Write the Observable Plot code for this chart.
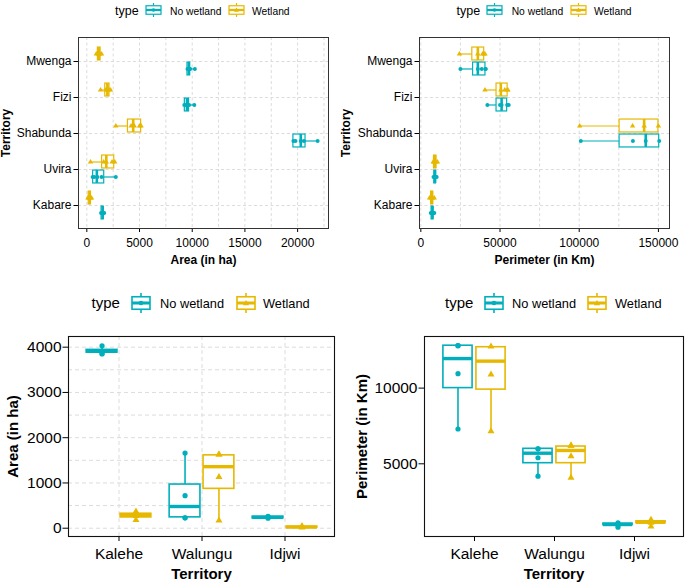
<!DOCTYPE html>
<html><head><meta charset="utf-8">
<script src="https://cdn.jsdelivr.net/npm/d3@7"></script>
<script src="https://cdn.jsdelivr.net/npm/@observablehq/plot@0.6"></script>
<style>
body{margin:0;background:#fff;}
#root{position:relative;width:685px;height:582px;font-family:"Liberation Sans",Arial,sans-serif;overflow:hidden;background:#fff}
.p{position:absolute}
.lg{position:absolute;white-space:nowrap;color:#000;line-height:1;transform:translateY(-50%)}
.lg svg{display:block}
</style></head><body><div id="root"></div>
<script>
// ---------- shared ----------
const types = ["No wetland", "Wetland"];
const typeColors = ["#00AFBB", "#E7B800"];
const typeSymbols = ["circle", "triangle"];

// ---------- top panels (horizontal boxes) ----------
const topTerritories = ["Mwenga", "Fizi", "Shabunda", "Uvira", "Kabare"];
const topGroupTerritory = ["Mwenga","Mwenga","Fizi","Fizi","Shabunda","Shabunda","Uvira","Uvira","Kabare","Kabare"];
const topGroupType = ["No wetland","Wetland","No wetland","Wetland","No wetland","Wetland","No wetland","Wetland","No wetland","Wetland"];

// Area (in ha), top-left
const areaTopMin = [9500, 900, 9200, 1300, 19600, 2750, 550, 350, 1350, 100];
const areaTopQ1  = [9550, 1050, 9300, 1750, 19600, 3900, 600, 1450, 1400, 180];
const areaTopMed = [9680, 1150, 9500, 1950, 20300, 4400, 950, 1850, 1500, 280];
const areaTopQ3  = [9800, 1300, 9700, 2150, 20750, 5150, 1650, 2600, 1600, 380];
const areaTopMax = [10250, 1400, 10200, 2250, 21900, 5150, 2750, 2700, 1650, 450];
const areaTopPoints = [
  [9550, 9650, 9750, 9800, 10250],
  [900, 1100, 1150, 1250, 1400],
  [9250, 9400, 9500, 9700, 10200],
  [1300, 1800, 1950, 2100, 2250],
  [19600, 19800, 20300, 20600, 21900],
  [2750, 4200, 4500, 5000, 5150],
  [550, 700, 1000, 1400, 2750],
  [350, 1600, 1850, 2400, 2650],
  [1350, 1450, 1500, 1550, 1650],
  [100, 200, 280, 350, 450]
];
const areaTopTicks = [0, 5000, 10000, 15000, 20000];
const areaTopGrid = [0, 2500, 5000, 7500, 10000, 12500, 15000, 17500, 20000, 22500];

// Perimeter (in Km), top-right
const perimTopMin = [25000, 24400, 42000, 40500, 101000, 100300, 8000, 7800, 6300, 5500];
const perimTopQ1  = [33000, 32500, 47800, 47800, 125500, 125500, 8500, 8300, 6800, 6500];
const perimTopMed = [36000, 36000, 51000, 50500, 142000, 141000, 9000, 9000, 7300, 7000];
const perimTopQ3  = [40800, 40000, 54500, 54800, 150500, 150000, 9500, 9800, 8000, 7800];
const perimTopMax = [41000, 40500, 55500, 55000, 150500, 150000, 10000, 10500, 8500, 8500];
const perimTopPoints = [
  [25000, 36000, 38500, 40800, 41000],
  [24400, 36000, 39000, 40000, 40500],
  [42000, 50000, 51000, 54500, 55500],
  [40500, 50500, 53000, 54500, 55000],
  [101000, 133900, 142000, 150500],
  [100300, 133700, 141000, 150000],
  [8000, 8500, 9000, 9500, 10000],
  [7800, 8500, 9000, 9500, 10500],
  [6300, 6800, 7300, 7800, 8500],
  [5500, 6500, 7000, 7500, 8500]
];
const perimTopTicks = [0, 50000, 100000, 150000];
const perimTopGrid = [0, 25000, 50000, 75000, 100000, 125000, 150000];

// ---------- bottom panels (vertical boxes) ----------
const botTerritories = ["Kalehe", "Walungu", "Idjwi"];
const botGroupTerritory = ["Kalehe","Kalehe","Walungu","Walungu","Idjwi","Idjwi"];
const botGroupType = ["No wetland","Wetland","No wetland","Wetland","No wetland","Wetland"];

// Area (in ha), bottom-left
const areaBotMin = [3850, 180, 230, 170, 200, 10];
const areaBotQ1  = [3880, 240, 240, 870, 220, 15];
const areaBotMed = [3910, 280, 480, 1360, 240, 25];
const areaBotQ3  = [3940, 320, 965, 1610, 255, 35];
const areaBotMax = [4030, 370, 1660, 1630, 270, 50];
const areaBotPoints = [
  [3850, 3860, 3910, 4030],
  [180, 270, 300, 370],
  [230, 230, 720, 1660],
  [170, 1130, 1630, 1630],
  [220, 240, 250, 260],
  [15, 25, 35, 45]
];
const areaBotTicks = [0, 1000, 2000, 3000, 4000];
const areaBotGrid = [0, 500, 1000, 1500, 2000, 2500, 3000, 3500, 4000];

// Perimeter (in Km), bottom-right
const perimBotMin = [7300, 7150, 4180, 4080, 810, 900];
const perimBotQ1  = [10000, 9900, 5040, 5040, 950, 1080];
const perimBotMed = [11950, 11780, 5700, 5880, 990, 1140];
const perimBotQ3  = [12800, 12700, 5990, 6140, 1050, 1200];
const perimBotMax = [12800, 12750, 5990, 6200, 1150, 1300];
const perimBotPoints = [
  [7300, 10950, 12800, 12800],
  [7150, 10900, 12750],
  [4180, 5400, 5990, 5990],
  [4080, 5500, 6200, 6200],
  [810, 950, 1000, 1100],
  [860, 1100, 1200, 1300]
];
const perimBotTicks = [5000, 10000];

// ---------- helpers ----------
const gridColor = "#dcdcdc";
function boxTable(terr, type, mn, q1, md, q3, mx) {
  return terr.map((t, i) => ({territory: t, type: type[i], min: mn[i], q1: q1[i], med: md[i], q3: q3[i], max: mx[i]}));
}
function pointTable(terr, type, pts) {
  return pts.flatMap((vals, i) => vals.map(v => ({territory: terr[i], type: type[i], value: v})));
}

function horizPanel(o) {
  const innerH = o.height - o.mt - o.mb;
  const step = innerH / (o.domain.length + 0.2);
  const boxes = boxTable(o.terr, o.type, o.min, o.q1, o.med, o.q3, o.max);
  const pts = pointTable(o.terr, o.type, o.points);
  const marks = [
    Plot.gridX({ticks: o.grid, stroke: gridColor, strokeOpacity: 1, strokeDasharray: "3,2.5"}),
    Plot.gridY({stroke: gridColor, strokeOpacity: 1, strokeDasharray: "3,2.5"})
  ];
  types.forEach((tp, k) => {
    const below = tp === "No wetland";
    const off = (below ? 1 : -1) * 0.204 * step;
    const insetTop = below ? 0.518 * step : 0.11 * step;
    const insetBottom = below ? 0.11 * step : 0.518 * step;
    const b = boxes.filter(d => d.type === tp);
    const p = pts.filter(d => d.type === tp);
    const c = typeColors[k];
    marks.push(
      Plot.ruleY(b, {y: "territory", x1: "min", x2: "max", dy: off, stroke: c, strokeWidth: 1.2}),
      Plot.barX(b, {y: "territory", x1: "q1", x2: "q3", insetTop, insetBottom, fill: "white", stroke: c, strokeWidth: 1.2}),
      Plot.tickX(b, {y: "territory", x: "med", insetTop, insetBottom, stroke: c, strokeWidth: 2.6}),
      Plot.dot(p, {x: "value", y: "territory", dy: off, r: 2, fill: c, symbol: typeSymbols[k]})
    );
  });
  marks.push(
    Plot.axisX({ticks: o.ticks, tickFormat: "d", tickSize: 4, tickPadding: 5.5, label: null}),
    Plot.axisY({tickSize: 4.5, tickPadding: 2.5, label: null}),
    Plot.frame({stroke: "#333", strokeWidth: 1}),
    Plot.text([o.xTitle], {text: d => d, frameAnchor: "bottom", dy: 32, lineAnchor: "middle", fontWeight: "bold", fontSize: 12}),
    Plot.text([o.yTitle], {text: d => d, frameAnchor: "left", dx: o.yTitleDx, rotate: -90, lineAnchor: "middle", textAnchor: "middle", fontWeight: "bold", fontSize: 12})
  );
  return Plot.plot({
    width: o.width, height: o.height,
    marginLeft: o.ml, marginRight: o.mr, marginTop: o.mt, marginBottom: o.mb,
    style: {fontFamily: '"Liberation Sans", Arial, sans-serif', fontSize: "12px", color: "#000", background: "transparent", overflow: "visible"},
    x: {domain: o.xDomain},
    y: {type: "band", domain: o.domain, paddingInner: 0, paddingOuter: 0.1},
    marks
  });
}

function vertPanel(o) {
  const innerW = o.width - o.ml - o.mr;
  const step = innerW / (o.domain.length + 0.2);
  const boxes = boxTable(o.terr, o.type, o.min, o.q1, o.med, o.q3, o.max);
  const pts = pointTable(o.terr, o.type, o.points);
  const marks = [];
  if (o.grid) {
    marks.push(
      Plot.gridY({ticks: o.grid, stroke: gridColor, strokeOpacity: 1, strokeDasharray: "4,3"}),
      Plot.gridX({stroke: gridColor, strokeOpacity: 1, strokeDasharray: "4,3"})
    );
  }
  types.forEach((tp, k) => {
    const left = tp === "No wetland";
    const off = (left ? -1 : 1) * 0.204 * step;
    const insetLeft = left ? 0.11 * step : 0.518 * step;
    const insetRight = left ? 0.518 * step : 0.11 * step;
    const b = boxes.filter(d => d.type === tp);
    const p = pts.filter(d => d.type === tp);
    const c = typeColors[k];
    marks.push(
      Plot.ruleX(b, {x: "territory", y1: "min", y2: "max", dx: off, stroke: c, strokeWidth: 1.6}),
      Plot.barY(b, {x: "territory", y1: "q1", y2: "q3", insetLeft, insetRight, fill: "white", stroke: c, strokeWidth: 1.6}),
      Plot.tickY(b, {x: "territory", y: "med", insetLeft, insetRight, stroke: c, strokeWidth: 3.4}),
      Plot.dot(p, {x: "territory", y: "value", dx: off, r: 2.6, fill: c, symbol: typeSymbols[k]})
    );
  });
  marks.push(
    Plot.axisX({tickSize: 5, tickPadding: 6.5, label: null}),
    Plot.axisY({ticks: o.ticks, tickFormat: "d", tickSize: 5.5, tickPadding: 1.5, label: null}),
    Plot.frame({stroke: "#111", strokeWidth: 1.1}),
    Plot.text([o.xTitle], {text: d => d, frameAnchor: "bottom", dy: 38, lineAnchor: "middle", fontWeight: "bold", fontSize: 15}),
    Plot.text([o.yTitle], {text: d => d, frameAnchor: "left", dx: o.yTitleDx, rotate: -90, lineAnchor: "middle", textAnchor: "middle", fontWeight: "bold", fontSize: 15})
  );
  return Plot.plot({
    width: o.width, height: o.height,
    marginLeft: o.ml, marginRight: o.mr, marginTop: o.mt, marginBottom: o.mb,
    style: {fontFamily: '"Liberation Sans", Arial, sans-serif', fontSize: "15.5px", color: "#000", background: "transparent", overflow: "visible"},
    x: {type: "band", domain: o.domain, paddingInner: 0, paddingOuter: 0.1},
    y: {domain: o.yDomain},
    marks
  });
}

// legend icon (boxplot key glyph)
function icon(color, symbol, w, h, boxH, r) {
  const ns = "http://www.w3.org/2000/svg";
  const s = document.createElementNS(ns, "svg");
  s.setAttribute("width", w + 2); s.setAttribute("height", h);
  const g = (tag, attrs) => { const e = document.createElementNS(ns, tag); for (const k in attrs) e.setAttribute(k, attrs[k]); s.appendChild(e); return e; };
  const cx = (w + 2) / 2, y0 = (h - boxH) / 2, sw = h > 16 ? 1.6 : 1.2;
  g("line", {x1: cx, x2: cx, y1: 0, y2: y0, stroke: color, "stroke-width": sw});
  g("line", {x1: cx, x2: cx, y1: y0 + boxH, y2: h, stroke: color, "stroke-width": sw});
  g("rect", {x: 1, y: y0, width: w, height: boxH, fill: "white", stroke: color, "stroke-width": sw});
  g("line", {x1: 1, x2: w + 1, y1: h / 2, y2: h / 2, stroke: color, "stroke-width": sw * 1.9});
  if (symbol === "circle") g("circle", {cx, cy: h / 2, r, fill: color});
  else { const a = r * 1.35; g("path", {d: `M${cx},${h/2 - a}L${cx + a},${h/2 + a*0.75}L${cx - a},${h/2 + a*0.75}Z`, fill: color}); }
  return s;
}

function legend(root, cfg) {
  const add = (x, node) => { const d = document.createElement("div"); d.className = "lg"; d.style.left = x + "px"; d.style.top = cfg.y + "px"; d.appendChild(node); root.appendChild(d); return d; };
  const txt = (x, t, size) => { const sp = document.createElement("span"); sp.textContent = t; sp.style.fontSize = size + "px"; add(x, sp); };
  txt(cfg.xs[0], "type", cfg.titleSize);
  add(cfg.xs[1], icon(typeColors[0], typeSymbols[0], cfg.iw, cfg.ih, cfg.ib, cfg.r));
  txt(cfg.xs[2], types[0], cfg.labelSize);
  add(cfg.xs[3], icon(typeColors[1], typeSymbols[1], cfg.iw, cfg.ih, cfg.ib, cfg.r));
  txt(cfg.xs[4], types[1], cfg.labelSize);
}

// ---------- build ----------
const root = document.getElementById("root");
function place(node, left, top) { node.classList.add("p"); node.style.left = left + "px"; node.style.top = top + "px"; root.appendChild(node); }

place(horizPanel({
  width: 340, height: 256, ml: 78, mr: 12, mt: 15, mb: 50,
  domain: topTerritories, terr: topGroupTerritory, type: topGroupType,
  min: areaTopMin, q1: areaTopQ1, med: areaTopMed, q3: areaTopQ3, max: areaTopMax, points: areaTopPoints,
  xDomain: [-790, 22930], ticks: areaTopTicks, grid: areaTopGrid,
  xTitle: "Area (in ha)", yTitle: "Territory", yTitleDx: -72
}), 0, 22);

place(horizPanel({
  width: 345, height: 256, ml: 79, mr: 16, mt: 15, mb: 50,
  domain: topTerritories, terr: topGroupTerritory, type: topGroupType,
  min: perimTopMin, q1: perimTopQ1, med: perimTopMed, q3: perimTopQ3, max: perimTopMax, points: perimTopPoints,
  xDomain: [-840, 157000], ticks: perimTopTicks, grid: perimTopGrid,
  xTitle: "Perimeter (in Km)", yTitle: "Territory", yTitleDx: -73
}), 340, 22);

place(vertPanel({
  width: 342, height: 260, ml: 68, mr: 8, mt: 14, mb: 46,
  domain: botTerritories, terr: botGroupTerritory, type: botGroupType,
  min: areaBotMin, q1: areaBotQ1, med: areaBotMed, q3: areaBotQ3, max: areaBotMax, points: areaBotPoints,
  yDomain: [-183, 4236], ticks: areaBotTicks, grid: areaBotGrid,
  xTitle: "Territory", yTitle: "Area (in ha)", yTitleDx: -55
}), 0, 322);

place(vertPanel({
  width: 343, height: 260, ml: 82, mr: 2, mt: 14, mb: 46,
  domain: botTerritories, terr: botGroupTerritory, type: botGroupType,
  min: perimBotMin, q1: perimBotQ1, med: perimBotMed, q3: perimBotQ3, max: perimBotMax, points: perimBotPoints,
  yDomain: [198, 13408], ticks: perimBotTicks, grid: null,
  xTitle: "Territory", yTitle: "Perimeter (in Km)", yTitleDx: -62
}), 342, 322);

legend(root, {y: 10, xs: [115, 145, 170, 227.5, 252], titleSize: 12.5, labelSize: 10.3, iw: 15, ih: 14, ib: 8.5, r: 1.8});
legend(root, {y: 10, xs: [456.5, 486, 511.7, 569.5, 594], titleSize: 12.5, labelSize: 10.3, iw: 15, ih: 14, ib: 8.5, r: 1.8});
legend(root, {y: 302.5, xs: [91.5, 130.5, 160, 235.5, 263], titleSize: 15, labelSize: 12.8, iw: 18, ih: 20, ib: 12.5, r: 2.3});
legend(root, {y: 302.5, xs: [445, 483.5, 512, 586.5, 615], titleSize: 15, labelSize: 12.8, iw: 18, ih: 20, ib: 12.5, r: 2.3});
</script></body></html>
